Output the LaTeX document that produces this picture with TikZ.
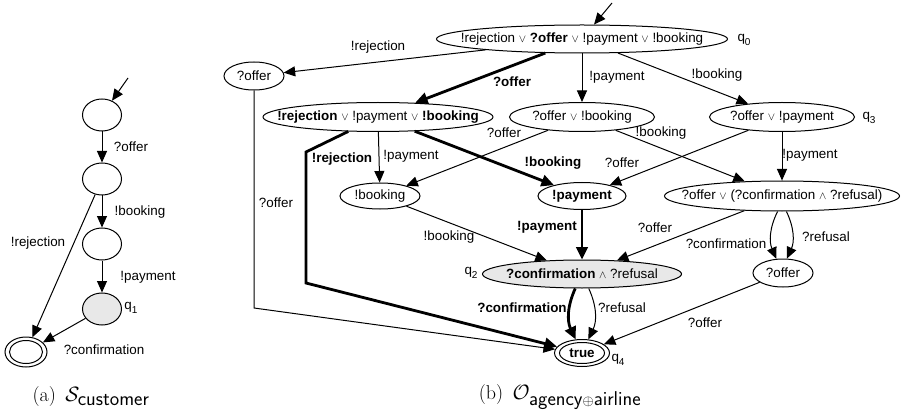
\documentclass[tikz,border=0pt]{standalone}
\usepackage{fontspec}
\usetikzlibrary{shapes.geometric,arrows.meta}
\newfontfamily\labfont{Liberation Sans}
\newcommand\myor{{\fontsize{10.5}{10}\selectfont$\vee$}}
\newcommand\myand{{\fontsize{10.5}{10}\selectfont$\wedge$}}
\newcommand\qsub[1]{q\raisebox{-3.5pt}{\fontsize{10}{10}\selectfont #1}}
\begin{document}
\begin{tikzpicture}[x=1pt,y=-1pt,
  every node/.style={font=\labfont\fontsize{13.4}{16}\selectfont},
  st/.style={ellipse,draw,line width=1pt,inner sep=0pt},
  gr/.style={fill=gray!18},
  arr/.style={line width=1pt,-{Triangle[length=11.5pt,width=10pt]}},
  thk/.style={line width=2.8pt,-{Triangle[length=12.5pt,width=11.5pt]}},
  lbl/.style={inner sep=0pt},
  captxt/.style={inner sep=0pt,font=\rmfamily\fontsize{20}{24}\selectfont}]
\useasboundingbox (0,0) rectangle (907,414);

% ---------- (a) ----------
\node[st,minimum width=39pt,minimum height=32pt] (a0) at (102,115) {};
\node[st,minimum width=39pt,minimum height=32pt] (a1) at (102,179) {};
\node[st,minimum width=39pt,minimum height=32pt] (a2) at (102,244) {};
\node[st,gr,minimum width=39pt,minimum height=32pt] (a3) at (102,309) {};
\node[st,minimum width=42pt,minimum height=30pt] (af) at (26,352) {};
\draw[line width=1pt] (af.center) ellipse (16.5 and 11.5);
\coordinate (ain) at (128,78);
\draw[arr] (ain) -- (a0);
\draw[arr] (a0) -- (a1);
\draw[arr] (a1) -- (a2);
\draw[arr] (a2) -- (a3);
\draw[arr] (a1) -- (af);
\draw[arr] (a3) -- (af);
\node[lbl] (la1) at (131,147) {?offer};
\node[lbl] (la2) at (140,212) {!booking};
\node[lbl] (la3) at (148,277) {!payment};
\node[lbl] (la4) at (131,308) {\qsub{1}};
\node[lbl] (la5) at (38,243) {!rejection};
\node[lbl] (la6) at (104,350) {?confirmation};
\node[captxt] (capa) at (91,397) {(a)\, $\mathcal{S}_{\textsf{customer}}$};

% ---------- (b) ----------
\node[st,minimum width=291pt,minimum height=28pt,
  label={[lbl]center:!rejection \myor{} \textbf{?offer} \myor{} !payment \myor{} !booking}] (q0) at (582,39) {};
\node[st,minimum width=60pt,minimum height=28pt,label={[lbl]center:?offer}] (L) at (254,76) {};
\node[st,minimum width=230pt,minimum height=29pt,
  label={[lbl]center:\textbf{!rejection} \myor{} !payment \myor{} \textbf{!booking}}] (n1) at (378,117) {};
\node[st,minimum width=145pt,minimum height=29pt,
  label={[lbl]center:?offer \myor{} !booking}] (n2) at (582,117) {};
\node[st,minimum width=145pt,minimum height=29pt,
  label={[lbl]center:?offer \myor{} !payment}] (n3) at (782,117) {};
\node[st,minimum width=80pt,minimum height=26pt,label={[lbl]center:!booking}] (n4) at (380,196) {};
\node[st,minimum width=88pt,minimum height=27pt,label={[lbl]center:\textbf{!payment}}] (P) at (582,196) {};
\node[st,minimum width=235pt,minimum height=30pt,
  label={[lbl]center:?offer \myor{} (?confirmation \myand{} ?refusal)}] (n5) at (782,196) {};
\node[st,gr,minimum width=199pt,minimum height=28pt,
  label={[lbl]center:\textbf{?confirmation} \myand{} ?refusal}] (q2) at (582,274) {};
\node[st,minimum width=60pt,minimum height=28pt,label={[lbl]center:?offer}] (R) at (783,273) {};
\node[st,minimum width=55pt,minimum height=27pt,label={[lbl]center:\textbf{true}}] (T) at (582,353) {};
\draw[line width=1pt] (T.center) ellipse (22.5 and 10.5);

\node[lbl] (lq0) at (744,40) {\qsub{0}};
\node[lbl] (lq3) at (869,118) {\qsub{3}};
\node[lbl] (lq2) at (471,273) {\qsub{2}};
\node[lbl] (lq4) at (618,360) {\qsub{4}};

\coordinate (bin) at (612,3);
\draw[arr] (bin) -- (q0);
\draw[arr] (q0) -- (L);
\draw[thk] (q0) -- (n1);
\draw[arr] (q0) -- (n2);
\draw[arr] (q0) -- (n3);
\draw[arr] (n1) -- (n4);
\draw[arr] (n2) -- (n4);
\draw[thk] (n1) -- (P);
\coordinate (r1) at (306,152);
\coordinate (r2) at (306,283);
\draw[thk] (n1) -- (r1) -- (r2) -- (T);
\coordinate (o1) at (254,308);
\draw[arr] (L) -- (o1) -- (T);
\draw[arr] (n2) -- (n5);
\draw[arr] (n3) -- (P);
\draw[arr] (n3) -- (n5);
\draw[arr] (n4) -- (q2);
\draw[thk] (P) -- (q2);
\draw[arr] (n5) -- (q2);
\draw[arr] (n5.254) to[bend right=25] (R.115);
\draw[arr] (n5.286) to[bend left=25] (R.75);
\draw[arr] (R) -- (T);
\draw[thk] (q2.245) to[bend right=25] (T.115);
\draw[arr] (q2.295) to[bend left=25] (T.65);

\node[lbl] (e1) at (378,47) {!rejection};
\node[lbl] (e2) at (512,82) {\textbf{?offer}};
\node[lbl] (e3) at (617,77) {!payment};
\node[lbl] (e4) at (717,75) {!booking};
\node[lbl] (e5) at (342,159) {\textbf{!rejection}};
\node[lbl] (e6) at (411,156) {!payment};
\node[lbl] (e7) at (504,133) {?offer};
\node[lbl] (e8) at (553,163) {\textbf{!booking}};
\node[lbl] (e9) at (661,133) {!booking};
\node[lbl] (e10) at (622,163) {?offer};
\node[lbl] (e11) at (810,155) {!payment};
\node[lbl] (e12) at (276,203) {?offer};
\node[lbl] (e13) at (547,227) {\textbf{!payment}};
\node[lbl] (e14) at (449,237) {!booking};
\node[lbl] (e15) at (655,228) {?offer};
\node[lbl] (e16) at (726,244) {?confirmation};
\node[lbl] (e17) at (826,237) {?refusal};
\node[lbl] (e18) at (522,308) {\textbf{?confirmation}};
\node[lbl] (e19) at (622,308) {?refusal};
\node[lbl] (e20) at (705,323) {?offer};
\node[captxt] (capb) at (560,397) {(b)\, $\mathcal{O}_{\textsf{agency}\oplus\textsf{airline}}$};
\end{tikzpicture}
\end{document}
